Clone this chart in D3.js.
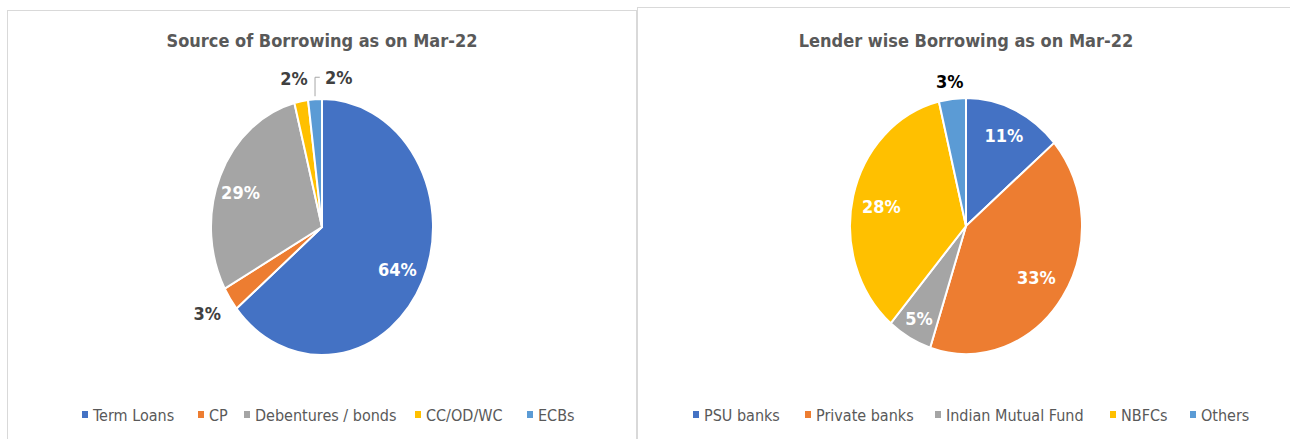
<!DOCTYPE html>
<html><head><meta charset="utf-8">
<script src="https://cdn.jsdelivr.net/npm/d3@7"></script>
<style>
body{margin:0;background:#fff;}
text{font-family:"DejaVu Sans Condensed","DejaVu Sans",sans-serif;}
</style></head>
<body><svg id="c" width="1290" height="439"></svg>
<script>
// ---- data ----
const sourceCategories = ["Term Loans","CP","Debentures / bonds","CC/OD/WC","ECBs"];
const sourceValues = [64,3,29,2,2];
const sourceLabels = ["64%","3%","29%","2%","2%"];
const lenderCategories = ["PSU banks","Private banks","Indian Mutual Fund","NBFCs","Others"];
const lenderValues = [11,33,5,28,3];
const lenderLabels = ["11%","33%","5%","28%","3%"];
const colors = ["#4472C4","#ED7D31","#A5A5A5","#FFC000","#5B9BD5"];
const titles = ["Source of Borrowing as on Mar-22","Lender wise Borrowing as on Mar-22"];

const svg = d3.select("#c");

// panel frames
svg.append("rect").attr("x",7.5).attr("y",10.5).attr("width",629).attr("height",440)
  .attr("fill","#fff").attr("stroke","#d9d9d9");
svg.append("rect").attr("x",637.5).attr("y",7.5).attr("width",660).attr("height",440)
  .attr("fill","#fff").attr("stroke","#d9d9d9");

function drawPie(cfg){
  const g = svg.append("g");
  g.append("text").attr("x",cfg.cx).attr("y",47).attr("text-anchor","middle")
    .attr("font-size",18).attr("font-weight","bold").attr("fill","#595959").text(cfg.title);
  const sy = cfg.ry/cfg.rx;
  const pie = d3.pie().sort(null).value(d=>d)(cfg.values);
  const arc = d3.arc().innerRadius(0).outerRadius(cfg.rx);
  const pg = g.append("g").attr("transform",`translate(${cfg.cx},${cfg.cy}) scale(1,${sy})`);
  pg.selectAll("path").data(pie).enter().append("path")
    .attr("d",arc).attr("fill",(d,i)=>colors[i])
    .attr("stroke","#fff").attr("stroke-width",2).attr("vector-effect","non-scaling-stroke");
  // labels
  pie.forEach((d,i)=>{
    const L = cfg.labelPos[i];
    const mid = (d.startAngle+d.endAngle)/2;
    const r = cfg.rx*L.r;
    const x = cfg.cx + Math.sin(mid)*r + (L.dx||0);
    const y = cfg.cy - Math.cos(mid)*r*sy + (L.dy||0);
    g.append("text").attr("x",x).attr("y",y).attr("text-anchor","middle")
      .attr("dominant-baseline","central")
      .attr("font-size",18).attr("font-weight","bold").attr("fill",L.c).text(cfg.labels[i]);
    if(L.leader){
      const ex = cfg.cx + Math.sin(mid)*cfg.rx;
      const ey = cfg.cy - Math.cos(mid)*cfg.rx*sy;
      g.append("path").attr("d",`M${ex},${ey-3} L${ex},${y} L${x-19},${y}`)
        .attr("fill","none").attr("stroke","#a6a6a6").attr("stroke-width",1);
    }
  });
  // legend
  const lg = g.append("g");
  cfg.categories.forEach((c,i)=>{
    const x = cfg.legendX[i];
    lg.append("rect").attr("x",x).attr("y",411).attr("width",6).attr("height",7).attr("fill",colors[i]);
    lg.append("text").attr("x",x+11).attr("y",421).attr("font-size",16).attr("fill","#595959").text(c);
  });
}

drawPie({cx:322,cy:227,rx:111,ry:128,title:titles[0],values:sourceValues,labels:sourceLabels,
  categories:sourceCategories,legendX:[82,198,244,415,527],
  labelPos:[{r:0.75,c:"#fff",dy:2},{r:1.25,c:"#404040",dy:-3},{r:0.8,c:"#fff",dy:6},
            {r:1.2,c:"#404040",dx:-3,dy:2},{r:1.18,c:"#404040",dx:25,dy:1,leader:true}]});
drawPie({cx:966,cy:226,rx:116,ry:128,title:titles[1],values:lenderValues,labels:lenderLabels,
  categories:lenderCategories,legendX:[693,805,935,1110,1190],
  labelPos:[{r:0.78,c:"#fff"},{r:0.73,c:"#fff"},{r:0.83,c:"#fff"},{r:0.75,c:"#fff",dy:3},{r:1.2,c:"#000",dy:8}]});
</script></body></html>
